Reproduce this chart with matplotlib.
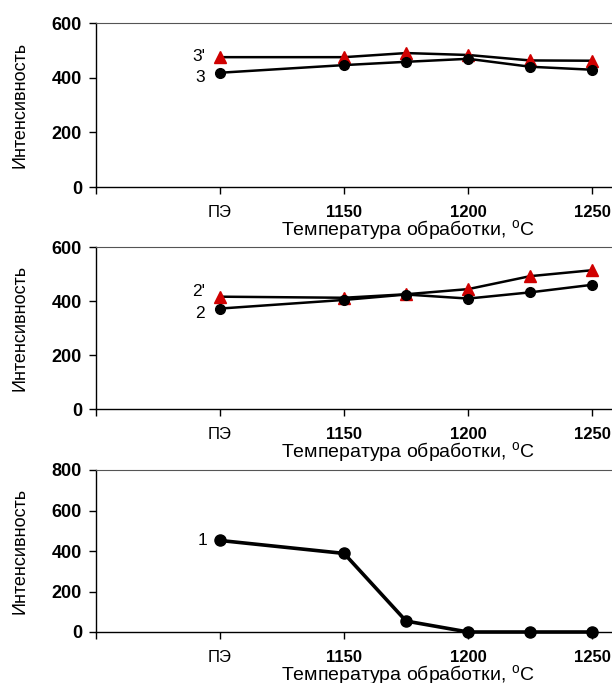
import matplotlib
matplotlib.use('Agg')
import matplotlib.pyplot as plt

plt.rcParams['font.family'] = ['Liberation Sans', 'DejaVu Sans']

temps = [1100, 1150, 1175, 1200, 1225, 1250]
tick_pos = [1050, 1100, 1150, 1200, 1250]
tick_labels = ['', 'ПЭ', '1150', '1200', '1250']

s3p = [475, 475, 490, 483, 463, 462]
s3 = [418, 446, 458, 469, 440, 429]
s2p = [416, 412, 425, 444, 492, 514]
s2 = [372, 404, 424, 409, 432, 460]
s1 = [452, 388, 54, 0, 0, 0]

xlabel = 'Температура обработки, $^{\\mathregular{o}}$C'
ylabel = 'Интенсивность'

fig = plt.figure(figsize=(6.12, 6.83), dpi=100)
W, H = 612, 683

def make_ax(top, bottom, ymax):
    ax = fig.add_axes([96 / W, 1 - bottom / H, (W - 96) / W, (bottom - top) / H])
    ax.set_xlim(1050, 1258)
    ax.set_ylim(0, ymax)
    ax.set_yticks(range(0, ymax + 1, 200))
    ax.set_xticks(tick_pos)
    ax.set_xticklabels(tick_labels)
    for lab in ax.get_xticklabels():
        if lab.get_text() != 'ПЭ':
            lab.set_fontweight('bold')
    for lab in ax.get_yticklabels():
        lab.set_fontweight('bold')
    ax.tick_params(axis='x', direction='out', length=5, width=1, pad=8, labelsize=12)
    ax.tick_params(axis='y', direction='out', length=5, width=1, pad=5, labelsize=13)
    ax.spines['right'].set_visible(False)
    ax.spines['top'].set_color('#555555')
    for s in ['left', 'bottom']:
        ax.spines[s].set_linewidth(1)
    ax.set_xlabel(xlabel, fontsize=14)
    ax.xaxis.set_label_coords(0.605, -0.195)
    ax.set_ylabel(ylabel, fontsize=13)
    ax.yaxis.set_label_coords(-0.13, 0.5)
    return ax

ax1 = make_ax(23, 187, 600)
ax1.plot(temps, s3p, color='black', lw=1.8, marker='^', ms=8, mfc='#d00000', mec='#d00000', clip_on=False)
ax1.plot(temps, s3, color='black', lw=1.8, marker='o', ms=7, mfc='black', mec='black', clip_on=False)
ax1.text(1094, 476, "3'", fontsize=12.5, ha='right', va='center')
ax1.text(1094, 402, "3", fontsize=12.5, ha='right', va='center')

ax2 = make_ax(247, 409, 600)
ax2.plot(temps, s2p, color='black', lw=1.8, marker='^', ms=8, mfc='#d00000', mec='#d00000', clip_on=False)
ax2.plot(temps, s2, color='black', lw=1.8, marker='o', ms=7, mfc='black', mec='black', clip_on=False)
ax2.text(1094, 434, "2'", fontsize=12.5, ha='right', va='center')
ax2.text(1094, 353, "2", fontsize=12.5, ha='right', va='center')

ax3 = make_ax(470, 632, 800)
ax3.plot(temps, s1, color='black', lw=2.6, marker='o', ms=8, mfc='black', mec='black', clip_on=False)
ax3.text(1095, 450, "1", fontsize=12.5, ha='right', va='center')

fig.savefig('out.png', dpi=100)
